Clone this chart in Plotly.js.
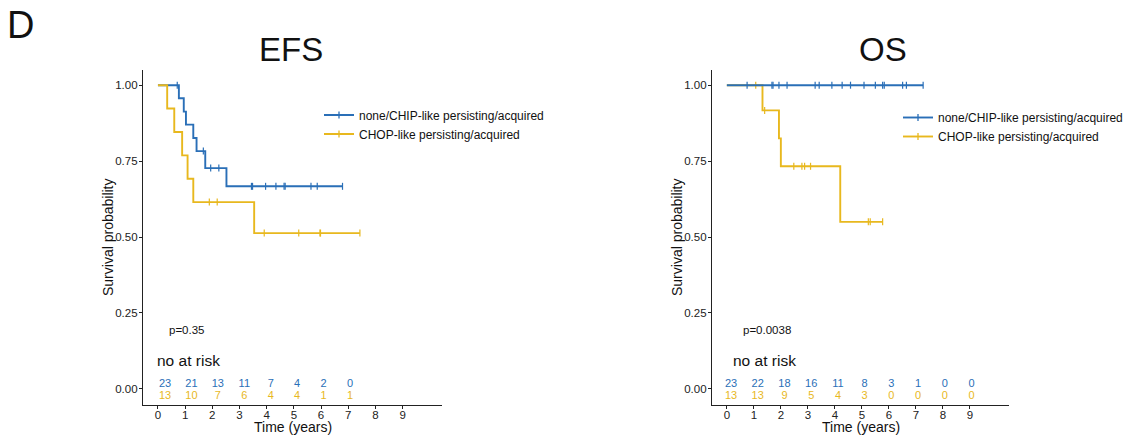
<!DOCTYPE html>
<html>
<head>
<meta charset="utf-8">
<script src="https://cdn.plot.ly/plotly-3.0.1.min.js"></script>
<style>html,body{margin:0;padding:0;background:#fff;}#chart{width:1132px;height:436px;}</style>
</head>
<body>
<div id="chart"></div>
<script>
// ---------- data ----------
const groupNames = ['none/CHIP-like persisting/acquired', 'CHOP-like persisting/acquired'];

// EFS
const efsBlueEventT = [0.77, 0.95, 1.03, 1.30, 1.42, 1.74, 2.52];
const efsBlueSurv   = [0.957, 0.913, 0.870, 0.826, 0.783, 0.727, 0.667];
const efsBlueCensT  = [0.71, 1.67, 1.94, 2.24, 3.44, 3.48, 3.96, 4.34, 4.64, 4.68, 5.63, 5.86, 6.79];
const efsYelEventT  = [0.34, 0.60, 0.89, 1.09, 1.30, 3.54];
const efsYelSurv    = [0.923, 0.846, 0.769, 0.692, 0.615, 0.513];
const efsYelCensT   = [1.89, 2.18, 3.91, 5.18, 5.96, 5.98, 7.43];

// OS
const osBlueEventT = [];
const osBlueSurv   = [];
const osBlueCensT  = [0.75, 1.67, 1.71, 1.93, 2.23, 3.27, 3.42, 3.89, 4.27, 4.58, 5.08, 5.50, 5.77, 5.83, 6.51, 6.65, 7.27];
const osYelEventT  = [1.32, 1.93, 2.00, 4.20];
const osYelSurv    = [0.917, 0.825, 0.733, 0.550];
const osYelCensT   = [1.07, 1.40, 2.48, 2.78, 2.88, 3.10, 5.24, 5.31, 5.77];

// numbers at risk
const riskTimesEFS = [0, 1, 2, 3, 4, 5, 6, 7];
const efsRiskBlue  = [23, 21, 13, 11, 7, 4, 2, 0];
const efsRiskYel   = [13, 10, 7, 6, 4, 4, 1, 1];
const riskTimesOS  = [0, 1, 2, 3, 4, 5, 6, 7, 8, 9];
const osRiskBlue   = [23, 22, 18, 16, 11, 8, 3, 1, 0, 0];
const osRiskYel    = [13, 13, 9, 5, 4, 3, 0, 0, 0, 0];

const pEFS = 'p=0.35';
const pOS  = 'p=0.0038';
const xTicks = [0,1,2,3,4,5,6,7,8,9];
const yTicks = [0, 0.25, 0.5, 0.75, 1];
const xTitle = 'Time (years)';
const yTitle = 'Survival probability';

// ---------- styling ----------
const FONT = 'Liberation Sans, Arial, Helvetica, sans-serif';
const BLUE = '#2A6FB7';
const YEL  = '#E8B81E';
const W = 1132, H = 436;
const px = v => v / W;
const py = v => 1 - v / H;

function survAt(eventT, surv, t) {
  let s = 1;
  for (let i = 0; i < eventT.length; i++) if (eventT[i] <= t) s = surv[i];
  return s;
}

function curveTraces(eventT, surv, censT, color, xa, ya) {
  const end = Math.max(...censT, ...(eventT.length ? eventT : [0]));
  const x = [0].concat(eventT, [end]);
  const y = [1].concat(surv, [survAt(eventT, surv, end)]);
  return [
    {x: x, y: y, xaxis: xa, yaxis: ya, type: 'scatter', mode: 'lines',
     line: {color: color, width: 1.9, shape: 'hv'}, showlegend: false, hoverinfo: 'skip'},
    {x: censT, y: censT.map(t => survAt(eventT, surv, t)), xaxis: xa, yaxis: ya,
     type: 'scatter', mode: 'markers',
     marker: {symbol: 'line-ns-open', size: 5, color: color, line: {color: color, width: 1.2}},
     showlegend: false, hoverinfo: 'skip'}
  ];
}

function legendTrace(name, color, leg) {
  return {x: [null], y: [null], type: 'scatter', mode: 'lines+markers', name: name,
    line: {color: color, width: 1.9},
    marker: {symbol: 'line-ns-open', size: 5, color: color, line: {color: color, width: 1.3}},
    legend: leg, showlegend: true, xaxis: leg === 'legend' ? 'x' : 'x2', yaxis: leg === 'legend' ? 'y' : 'y2'};
}

function riskTrace(times, vals, color, xa, ya, yRow) {
  return {x: times, y: times.map(() => yRow), text: vals.map(String), xaxis: xa, yaxis: ya,
    type: 'scatter', mode: 'text', textposition: 'middle center',
    textfont: {family: FONT, size: 11, color: color}, showlegend: false, hoverinfo: 'skip'};
}

const ROW_BLUE = 0.016, ROW_YEL = -0.024;

const traces = []
  .concat(curveTraces(efsBlueEventT, efsBlueSurv, efsBlueCensT, BLUE, 'x', 'y'))
  .concat(curveTraces(efsYelEventT, efsYelSurv, efsYelCensT, YEL, 'x', 'y'))
  .concat(curveTraces(osYelEventT, osYelSurv, osYelCensT, YEL, 'x2', 'y2'))
  .concat(curveTraces(osBlueEventT, osBlueSurv, osBlueCensT, BLUE, 'x2', 'y2'))
  .concat([
    legendTrace(groupNames[0], BLUE, 'legend'),
    legendTrace(groupNames[1], YEL, 'legend'),
    legendTrace(groupNames[0], BLUE, 'legend2'),
    legendTrace(groupNames[1], YEL, 'legend2'),
    riskTrace(riskTimesEFS, efsRiskBlue, BLUE, 'x3', 'y3', ROW_BLUE),
    riskTrace(riskTimesEFS, efsRiskYel, YEL, 'x3', 'y3', ROW_YEL),
    riskTrace(riskTimesOS, osRiskBlue, BLUE, 'x4', 'y4', ROW_BLUE),
    riskTrace(riskTimesOS, osRiskYel, YEL, 'x4', 'y4', ROW_YEL)
  ]);

const XR = [-0.55, 10.45];
const YR = [-0.053, 1.05];
const YDOM = [py(405), py(70)];

function mainX(dom, anchor) {
  return {domain: dom, range: XR, anchor: anchor, showline: true, linecolor: '#222', linewidth: 1.1,
    ticks: 'outside', ticklen: 3, tickcolor: '#222', tickwidth: 1, tickvals: xTicks,
    ticklabelstandoff: -4,
    showgrid: false, zeroline: false, fixedrange: true,
    tickfont: {family: FONT, size: 11.5, color: '#222'}};
}
function mainY(anchor) {
  return {domain: YDOM, range: YR, anchor: anchor, showline: true, linecolor: '#222', linewidth: 1.1,
    ticks: 'outside', ticklen: 3, tickcolor: '#222', tickwidth: 1, tickvals: yTicks, tickformat: '.2f',
    ticklabelstandoff: -1,
    showgrid: false, zeroline: false, fixedrange: true,
    tickfont: {family: FONT, size: 11.5, color: '#222'}};
}
function hiddenX(dom, anchor) { return {domain: dom, range: XR, anchor: anchor, visible: false, fixedrange: true}; }
function hiddenY(anchor) { return {domain: YDOM, range: YR, anchor: anchor, visible: false, fixedrange: true}; }

function legendBox(x, y) {
  return {x: x, y: y, xanchor: 'left', yanchor: 'top', bgcolor: 'rgba(0,0,0,0)', borderwidth: 0,
    font: {family: FONT, size: 12, color: '#111'}, itemwidth: 30, tracegroupgap: 0, orientation: 'v'};
}

const ann = (text, x, y, size, xanchor, xref, yref, extra) => Object.assign({
  text: text, x: x, y: y, xref: xref || 'paper', yref: yref || 'paper', showarrow: false,
  xanchor: xanchor || 'center', yanchor: 'middle', font: {family: FONT, size: size, color: '#111'}
}, extra || {});

const layout = {
  width: W, height: H,
  margin: {l: 0, r: 0, t: 0, b: 0, autoexpand: false},
  paper_bgcolor: '#fff', plot_bgcolor: 'rgba(0,0,0,0)',
  xaxis: mainX([px(143), px(442)], 'y'),
  yaxis: mainY('x'),
  xaxis2: mainX([px(712), px(1009)], 'y2'),
  yaxis2: mainY('x2'),
  xaxis3: hiddenX([px(150.5), px(441.2)], 'y3'),
  yaxis3: hiddenY('x3'),
  xaxis4: hiddenX([px(716.3), px(1010.4)], 'y4'),
  yaxis4: hiddenY('x4'),
  legend: legendBox(px(319), py(100.5)),
  legend2: legendBox(px(898), py(103)),
  annotations: [
    ann('D', px(20.5), py(25), 38),
    ann('EFS', px(291), py(50), 33),
    ann('OS', px(883), py(50), 33),
    ann(xTitle, px(292.5), py(427), 14),
    ann(xTitle, px(860.5), py(427), 14),
    ann(yTitle, px(108), py(237), 14, 'center', 'paper', 'paper', {textangle: -90}),
    ann(yTitle, px(677), py(237), 14, 'center', 'paper', 'paper', {textangle: -90}),
    ann(pEFS, 0.32, 0.194, 11.5, 'left', 'x', 'y'),
    ann(pOS, 0.54, 0.194, 11.5, 'left', 'x2', 'y2'),
    ann('no at risk', -0.11, 0.093, 15.5, 'left', 'x', 'y'),
    ann('no at risk', 0.15, 0.093, 15.5, 'left', 'x2', 'y2')
  ],
  showlegend: true
};

Plotly.newPlot('chart', traces, layout, {displayModeBar: false, staticPlot: true});
</script>
</body>
</html>
